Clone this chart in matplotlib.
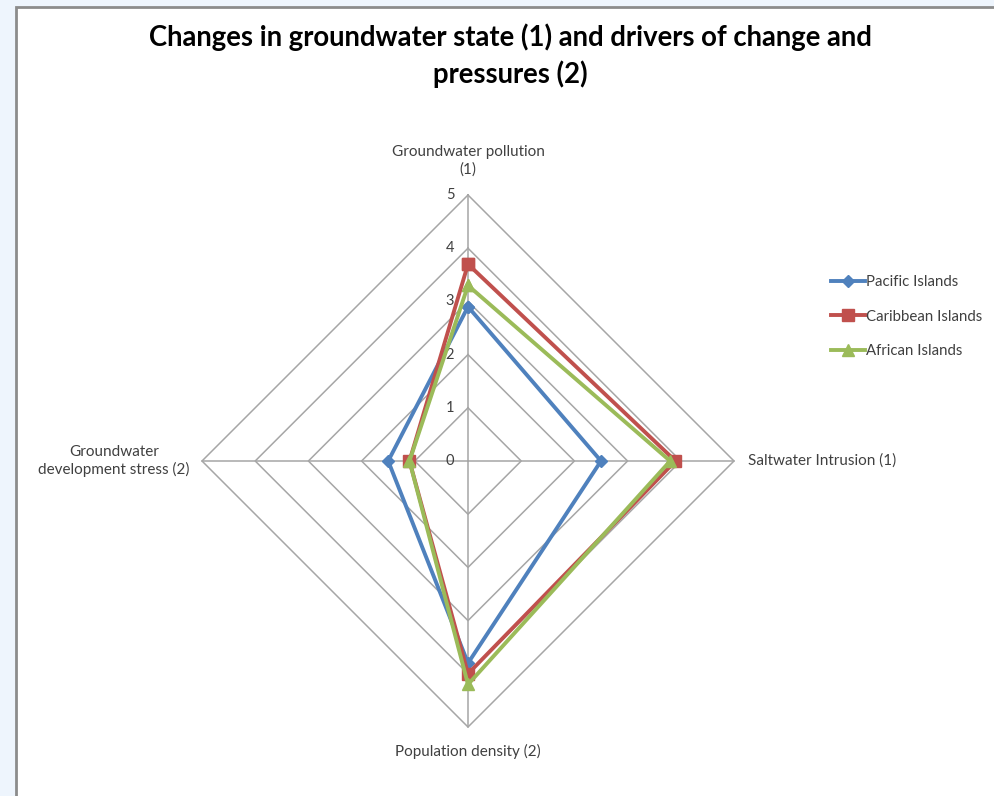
import numpy as np
import matplotlib.pyplot as plt
from matplotlib.patches import Rectangle

plt.rcParams['font.family'] = ['Lato', 'DejaVu Sans']

# Data
categories = ['Groundwater pollution\n(1)', 'Saltwater Intrusion (1)',
              'Population density (2)', 'Groundwater\ndevelopment stress (2)']
series_names = ['Pacific Islands', 'Caribbean Islands', 'African Islands']
pacific = [2.9, 2.5, 3.8, 1.5]
caribbean = [3.7, 3.9, 4.0, 1.1]
african = [3.3, 3.8, 4.2, 1.1]
tick_values = [0, 1, 2, 3, 4, 5]

colors = ['#4F81BD', '#C0504D', '#9BBB59']
markers = ['D', 's', '^']
msizes = [6.5, 8, 8]

W, H = 994, 796
fig = plt.figure(figsize=(W / 100, H / 100), dpi=100)
fig.patch.set_facecolor('#EEF5FD')

# chart area (white with gray border, runs off right/bottom)
fig.patches.append(Rectangle((16 / W, -0.05), 1.1, (H - 7) / H + 0.05,
                             transform=fig.transFigure, facecolor='white',
                             edgecolor='#8C8C8C', linewidth=2, zorder=-5))

# radar axes: centre at pixel (468, 461), 53.2 px per unit
cx, cy, unit = 468, 461, 53.2
half = 300
ax = fig.add_axes([(cx - half) / W, (H - cy - half) / H, 2 * half / W, 2 * half / H])
ax.set_zorder(2)
lim = half / unit
ax.set_xlim(-lim, lim)
ax.set_ylim(-lim, lim)
ax.axis('off')

angles = np.pi / 2 - np.arange(4) * np.pi / 2  # top, right, bottom, left


def xy(vals):
    vals = np.asarray(vals, dtype=float)
    x = vals * np.cos(angles)
    y = vals * np.sin(angles)
    return np.append(x, x[0]), np.append(y, y[0])


# grid rings and spokes
for r in tick_values[1:]:
    gx, gy = xy([r] * 4)
    ax.plot(gx, gy, color='#A6A6A6', lw=1.1, zorder=1)
for a in angles:
    ax.plot([0, 5 * np.cos(a)], [0, 5 * np.sin(a)], color='#A6A6A6', lw=1.1, zorder=1)

# tick labels along the top spoke
for t in tick_values:
    ax.text(-18 / unit, t, str(t), ha='center', va='center', fontsize=10.5, color='#404040')

# series
for vals, name, c, m, ms in zip([pacific, caribbean, african], series_names, colors, markers, msizes):
    px, py = xy(vals)
    ax.plot(px, py, color=c, lw=2.8, marker=m, markersize=ms, label=name, zorder=3)

# category labels
ax.text(0, 5 + 34 / unit, categories[0], ha='center', va='center', fontsize=11,
        color='#404040', linespacing=1.25)
ax.text(5 + 14 / unit, 0, categories[1], ha='left', va='center', fontsize=11, color='#404040')
ax.text(0, -5 - 24 / unit, categories[2], ha='center', va='center', fontsize=11, color='#404040')
ax.text(-5 - 88 / unit, 0, categories[3], ha='center', va='center', fontsize=11,
        color='#404040', linespacing=1.25)

fig.text(510 / W, 1 - 56 / H,
         'Changes in groundwater state (1) and drivers of change and\npressures (2)',
         ha='center', va='center', fontsize=19.8, fontweight='bold', linespacing=1.4)

fig.legend(loc='upper left', bbox_to_anchor=(817 / W, 1 - 262 / H), frameon=False,
           fontsize=10.8, handlelength=2.3, handletextpad=0.1, labelspacing=1.35,
           labelcolor='#404040')

fig.savefig('out.png', dpi=100, facecolor=fig.get_facecolor())
